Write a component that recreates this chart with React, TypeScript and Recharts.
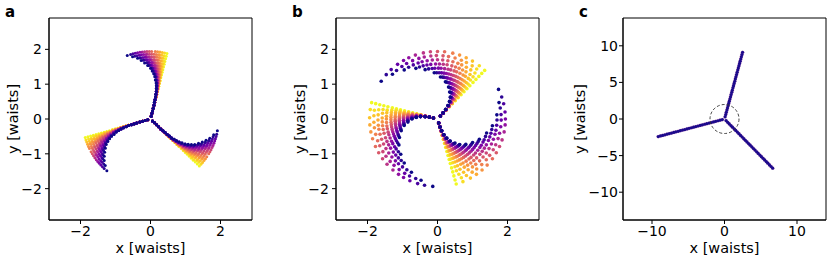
/** Three-panel dot map of a trefoil beam pattern: (a) weak twist, (b) strong
 * twist, (c) far field with a dashed reference circle. Dots are coloured by
 * index along each ring with the plasma colormap, dark drawn last.
 */

import type { ReactElement, ReactNode } from "react";
import { ReferenceArea, Scatter, ScatterChart, XAxis, YAxis } from "recharts";

const FONT = '"DejaVu Sans", sans-serif';
const INK = "#000000";
const TICK_FS = 14;
const LABEL_FS = 14.5;

// ---- panel a: ring radii (waists), arm directions (deg), per-ring dot angles relative to the arm (deg), dark -> yellow
const A_RADII = [0.08, 0.16, 0.24, 0.32, 0.41, 0.49, 0.57, 0.65, 0.73, 0.81, 0.89, 0.97, 1.05, 1.13, 1.22, 1.3, 1.38, 1.46, 1.54, 1.62, 1.7, 1.78, 1.86, 1.94];
const A_ARMS = [76, 196, 316];
const A_FAN = [
  [0, 0, 0, 0, 0, 0, 0, 0, 0, 0, 0, 0, 0, 0, 0, 0, 0],
  [0, 0, 0, 0, 0, 0, 0, 0, 0, 0, 0, 0, 0, 0, 0, 0, 0],
  [0, 0, 0, 0, 0, 0, 0, 0, 0, 0, 0, 0, 0, 0, 0, 0, 0],
  [0, 0, 0, 0, 0, 0, 0, 0, 0, 0, 0, 0, 0, 0, 0, 0, 0],
  [0, 0, 0, 0, 0, 0, 0, 0, 0, 0, 0, 0, 0, 0, 0, 0, 0],
  [1, 1, 0, 0, 0, 0, 0, 0, 0, 0, 0, 0, 0, 0, 0, 0, 0],
  [1, 1, 1, 1, 1, 1, 1, 0, 0, 0, 0, 0, 0, 0, 0, 0, 0],
  [1, 1, 1, 1, 1, 1, 1, 1, 1, 1, 0, 0, 0, 0, 0, 0, 0],
  [2, 2, 2, 1, 1, 1, 1, 1, 1, 1, 1, 1, 0, 0, 0, 0, 0],
  [2, 2, 2, 2, 2, 2, 2, 1, 1, 1, 1, 1, 1, 0, 0, 0, 0],
  [3, 3, 3, 3, 2, 2, 2, 2, 2, 1, 1, 1, 1, 1, 0, 0, 0],
  [4, 4, 4, 3, 3, 3, 3, 2, 2, 2, 2, 1, 1, 1, 1, 0, 0],
  [5, 5, 5, 4, 4, 4, 3, 3, 3, 2, 2, 2, 1, 1, 1, 0, 0],
  [7, 6, 6, 5, 5, 5, 4, 4, 3, 3, 2, 2, 2, 1, 1, 0, 0],
  [8, 8, 7, 7, 6, 6, 5, 5, 4, 4, 3, 3, 2, 2, 1, 1, 0],
  [10, 9, 9, 8, 8, 7, 6, 6, 5, 4, 4, 3, 3, 2, 1, 1, 0],
  [12, 11, 11, 10, 9, 8, 8, 7, 6, 5, 5, 4, 3, 2, 2, 1, 0],
  [14, 13, 12, 12, 11, 10, 9, 8, 7, 6, 5, 4, 4, 3, 2, 1, 0],
  [17, 16, 15, 14, 13, 12, 10, 9, 8, 7, 6, 5, 4, 3, 2, 1, 0],
  [20, 18, 17, 16, 15, 13, 12, 11, 10, 9, 7, 6, 5, 4, 2, 1, 0],
  [23, 21, 20, 18, 17, 15, 14, 13, 11, 10, 8, 7, 6, 4, 3, 1, 0],
  [26, 24, 23, 21, 19, 18, 16, 15, 13, 11, 10, 8, 6, 5, 3, 2, 0],
  [30, 28, 26, 24, 22, 20, 18, 17, 15, 13, 11, 9, 7, 6, 4, 2, 0],
  [34, 31, 29, 27, 25, 23, 21, 19, 17, 15, 13, 10, 8, 6, 4, 2, 0],
];

// ---- panel b
const B_RADII = [0.12, 0.24, 0.36, 0.49, 0.61, 0.73, 0.85, 0.97, 1.09, 1.21, 1.33, 1.46, 1.58, 1.7, 1.82, 1.94];
const B_ARMS = [46, 166, 286];
const B_FAN = [
  [0, 0, 0, 0, 0, 0, 0, 0, 0, 0, 0, 0, 0, 0, 0, 0, 0],
  [2, 1, 1, 1, 1, 1, 1, 1, 1, 1, 1, 0, 0, 0, 0, 0, 0],
  [4, 3, 3, 3, 3, 2, 2, 2, 2, 2, 1, 1, 1, 1, 0, 0, 0],
  [6, 6, 6, 5, 5, 4, 4, 4, 3, 3, 2, 2, 2, 1, 1, 0, 0],
  [10, 9, 9, 8, 8, 7, 6, 6, 5, 4, 4, 3, 3, 2, 1, 1, 0],
  [14, 13, 13, 12, 11, 10, 9, 8, 7, 6, 5, 4, 4, 3, 2, 1, 0],
  [20, 18, 17, 16, 15, 13, 12, 11, 10, 9, 7, 6, 5, 4, 2, 1, 0],
  [25, 24, 22, 21, 19, 17, 16, 14, 13, 11, 10, 8, 6, 5, 3, 2, 0],
  [32, 30, 28, 26, 24, 22, 20, 18, 16, 14, 12, 10, 8, 6, 4, 2, 0],
  [40, 37, 35, 32, 30, 27, 25, 22, 20, 17, 15, 12, 10, 7, 5, 2, 0],
  [48, 45, 42, 39, 36, 33, 30, 27, 24, 21, 18, 15, 12, 9, 6, 3, 0],
  [58, 54, 50, 47, 43, 40, 36, 32, 29, 25, 22, 18, 14, 11, 7, 4, 0],
  [67, 63, 59, 55, 51, 46, 42, 38, 34, 29, 25, 21, 17, 13, 8, 4, 0],
  [78, 73, 68, 63, 59, 54, 49, 44, 39, 34, 29, 24, 20, 15, 10, 5, 0],
  [89, 84, 78, 73, 67, 61, 56, 50, 45, 39, 34, 28, 22, 17, 11, 6, 0],
  [100, 93, 87, 80, 74, 69, 63, 56, 50, 44, 38, 31, 25, 19, 13, 6, 0],
];

// ---- panel c: straight arms
const C_RADII = [0.31, 0.63, 0.94, 1.26, 1.57, 1.89, 2.2, 2.52, 2.83, 3.15, 3.46, 3.78, 4.09, 4.41, 4.72, 5.04, 5.35, 5.67, 5.98, 6.3, 6.61, 6.93, 7.24, 7.56, 7.87, 8.19, 8.5, 8.82, 9.13, 9.45];
const C_ARMS = [74.7, 194.7, 314.7];
const C_CIRCLE_RADIUS = 2;

const AB_X_TICKS = [-2, 0, 2];
const AB_Y_TICKS = [-2, -1, 0, 1, 2];
const AB_DOMAIN: [number, number] = [-2.9, 2.9];
const C_X_TICKS = [-10, 0, 10];
const C_Y_TICKS = [-10, -5, 0, 5, 10];
const C_X_DOMAIN: [number, number] = [-14, 14];
const C_Y_DOMAIN: [number, number] = [-13.8, 13.8];

// layout
const H = 262;
const PLOT_TOP = 18;
const PLOT_W = 203;
const PLOT_H = 202;

const PLASMA = ["#0d0887", "#41049d", "#6a00a8", "#8f0da4", "#b12a90", "#cc4778", "#e16462", "#f2844b", "#fca636", "#fcce25", "#f0f921"];

function plasma(t: number): string {
  const pos = t * (PLASMA.length - 1);
  const i = Math.min(Math.floor(pos), PLASMA.length - 2);
  const f = pos - i;
  const a = PLASMA[i];
  const b = PLASMA[i + 1];
  const ch = (s: string, j: number) => parseInt(s.slice(1 + 2 * j, 3 + 2 * j), 16);
  const c = [0, 1, 2].map((j) => Math.round(ch(a, j) + (ch(b, j) - ch(a, j)) * f));
  return `rgb(${c[0]},${c[1]},${c[2]})`;
}

type Pt = { x: number; y: number };

function polar(r: number, deg: number): Pt {
  const t = (deg * Math.PI) / 180;
  return { x: r * Math.cos(t), y: r * Math.sin(t) };
}

/** One point list per colour index, collecting every arm and ring. */
function byColour(radii: number[], fan: number[][], arms: number[]): Pt[][] {
  const out: Pt[][] = fan[0].map(() => []);
  arms.forEach((arm) =>
    fan.forEach((row, i) => row.forEach((rel, k) => out[k].push(polar(radii[i], arm + rel)))),
  );
  return out;
}

const minus = (v: number) => String(v).replace("-", "\u2212");
const TICK = { fontSize: TICK_FS, fontFamily: FONT, fill: INK };
const AXIS_LINE = { stroke: INK, strokeWidth: 1 };

const dot = (r: number, fill: string) => (p: { cx?: number; cy?: number }) => (
  <circle cx={p.cx} cy={p.cy} r={r} fill={fill} />
);

function fanScatters(id: string, series: Pt[][], r: number): ReactElement[] {
  const n = series.length;
  // yellow first, dark last so the dark stem sits on top
  return series
    .map((pts, k) => ({ pts, k }))
    .reverse()
    .map(({ pts, k }) => (
      <Scatter key={`${id}${k}`} data={pts} isAnimationActive={false} shape={dot(r, plasma(k / (n - 1)))} />
    ));
}

interface PanelProps {
  left: number;
  width: number;
  axisWidth: number;
  yTickMargin: number;
  xDomain: [number, number];
  yDomain: [number, number];
  xTicks: number[];
  yTicks: number[];
  children: ReactNode;
}

function Panel({ left, width, axisWidth, yTickMargin, xDomain, yDomain, xTicks, yTicks, children }: PanelProps): ReactElement {
  return (
    <div style={{ position: "absolute", left, top: 0 }}>
      <ScatterChart
        width={width}
        height={H}
        margin={{ top: PLOT_TOP, right: width - axisWidth - PLOT_W, bottom: 0, left: 0 }}
      >
        <XAxis
          type="number"
          dataKey="x"
          domain={xDomain}
          ticks={xTicks}
          interval={0}
          allowDataOverflow
          height={H - PLOT_TOP - PLOT_H}
          tickSize={4}
          tickMargin={2}
          tick={TICK}
          tickLine={AXIS_LINE}
          axisLine={AXIS_LINE}
          tickFormatter={minus}
        />
        <YAxis
          type="number"
          dataKey="y"
          domain={yDomain}
          ticks={yTicks}
          interval={0}
          allowDataOverflow
          width={axisWidth}
          tickSize={4}
          tickMargin={yTickMargin}
          tick={TICK}
          tickLine={AXIS_LINE}
          axisLine={AXIS_LINE}
          tickFormatter={minus}
        />
        <ReferenceArea
          x1={xDomain[0]}
          x2={xDomain[1]}
          y1={yDomain[0]}
          y2={yDomain[1]}
          fill="none"
          fillOpacity={0}
          stroke={INK}
          strokeWidth={1}
        />
        {children}
      </ScatterChart>
    </div>
  );
}

export default function App(): ReactElement {
  const aSeries = byColour(A_RADII, A_FAN, A_ARMS);
  const bSeries = byColour(B_RADII, B_FAN, B_ARMS);
  const cDots = C_ARMS.flatMap((arm) => C_RADII.map((r) => polar(r, arm)));
  const cPx = PLOT_W / (C_X_DOMAIN[1] - C_X_DOMAIN[0]);

  const yLabel = (x: number) => (
    <text
      x={x}
      y={PLOT_TOP + PLOT_H / 2}
      transform={`rotate(-90 ${x} ${PLOT_TOP + PLOT_H / 2})`}
      textAnchor="middle"
      fontSize={LABEL_FS}
      fontFamily={FONT}
      fill={INK}
    >
      y [waists]
    </text>
  );
  const xLabel = (x: number) => (
    <text x={x} y={253} textAnchor="middle" fontSize={LABEL_FS} fontFamily={FONT} fill={INK}>
      x [waists]
    </text>
  );
  const letter = (x: number, s: string) => (
    <text x={x} y={17} fontSize={15} fontWeight="bold" fontFamily={FONT} fill={INK}>
      {s}
    </text>
  );

  return (
    <div style={{ position: "absolute", left: 0, top: 0, width: 831, height: H, background: "#fff" }}>
      <Panel left={0} width={262} axisWidth={49} yTickMargin={3} xDomain={AB_DOMAIN} yDomain={AB_DOMAIN} xTicks={AB_X_TICKS} yTicks={AB_Y_TICKS}>
        {fanScatters("a", aSeries, 1.5)}
      </Panel>
      <Panel left={280} width={269} axisWidth={56} yTickMargin={3} xDomain={AB_DOMAIN} yDomain={AB_DOMAIN} xTicks={AB_X_TICKS} yTicks={AB_Y_TICKS}>
        {fanScatters("b", bSeries, 1.8)}
      </Panel>
      <Panel left={555} width={276} axisWidth={68} yTickMargin={1} xDomain={C_X_DOMAIN} yDomain={C_Y_DOMAIN} xTicks={C_X_TICKS} yTicks={C_Y_TICKS}>
        <Scatter data={cDots} isAnimationActive={false} shape={dot(1.9, "rgba(190,50,140,0.3)")} />
        <Scatter data={cDots} isAnimationActive={false} shape={dot(1.6, "#1c0a8c")} />
        <Scatter
          data={[{ x: 0, y: 0 }]}
          isAnimationActive={false}
          shape={(p: { cx?: number; cy?: number }) => (
            <circle cx={p.cx} cy={p.cy} r={C_CIRCLE_RADIUS * cPx} fill="none" stroke="#333" strokeWidth={0.9} strokeDasharray="3 2" />
          )}
        />
      </Panel>
      <svg width={831} height={H} style={{ position: "absolute", left: 0, top: 0, pointerEvents: "none" }}>
        {letter(5, "a")}
        {letter(292, "b")}
        {letter(579, "c")}
        {yLabel(18)}
        {yLabel(305)}
        {yLabel(585)}
        {xLabel(150.5)}
        {xLabel(437.5)}
        {xLabel(724.5)}
      </svg>
    </div>
  );
}
